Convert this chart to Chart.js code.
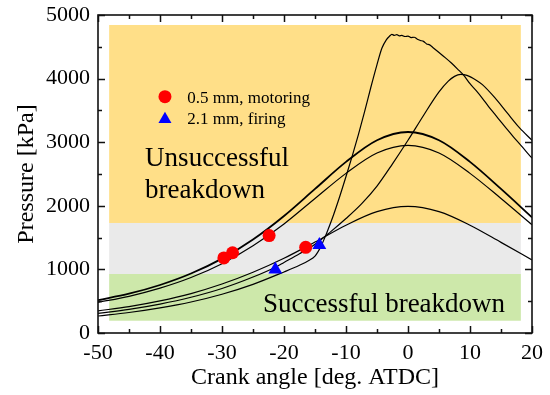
<!DOCTYPE html>
<html><head><meta charset="utf-8">
<script src="https://cdn.jsdelivr.net/npm/chart.js@4.4.1/dist/chart.umd.min.js"></script>
<style>html,body{margin:0;padding:0;background:#fff}#wrap{width:550px;height:395px}</style>
</head><body><div id="wrap"><canvas id="c" width="550" height="395"></canvas></div>
<script>
// ---- data ----
const angles5 = [-50,-45,-40,-35,-30,-25,-20,-15,-10,-5,0,5,10,15,20];
const motoring1 = [517,618,755,935,1170,1470,1840,2265,2690,3030,3160,3030,2690,2265,1818];
const motoring2 = [482,577,705,872,1090,1372,1715,2115,2510,2830,2950,2830,2510,2115,1702];
const motoring3 = [348,415,505,620,770,955,1175,1430,1695,1908,1990,1908,1695,1425,1150];

const firing1X = [-50,-45,-40,-35,-30,-25,-20,-17.5,-16,-15,-14.5,-14,-13.5,-13,-12,-11,-10,-9,-8,-7,-6,-5,-4.2,-3.5,-3,-2.6,-2.2,-1.8,-1.4,-1,-0.5,0,0.5,1,1.5,2,2.5,3,3.5,4,5,6,7,8,9,10,11,12,13,14,15,16,17,18,19,20];
const firing1Y = [267,322,395,488,610,765,960,1065,1140,1210,1280,1370,1480,1600,1860,2150,2460,2780,3120,3480,3860,4220,4480,4610,4665,4695,4680,4690,4672,4680,4662,4668,4645,4650,4620,4600,4585,4545,4530,4490,4410,4330,4245,4150,4050,3920,3810,3690,3560,3440,3320,3200,3085,2975,2860,2750];

const firing2X = [-50,-45,-40,-35,-30,-25,-21.4,-20,-17.5,-15,-12.5,-10,-7.5,-5,-2.5,0,2.5,5,6.5,7.5,8.5,9.5,11,12,14,16,18,20];
const firing2Y = [308,372,455,562,700,880,1035,1110,1245,1395,1590,1800,2030,2310,2660,3030,3420,3790,3960,4035,4065,4050,3975,3905,3700,3460,3225,3030];

const motoringPtsX = [-29.7,-28.3,-22.4,-16.5];
const motoringPtsY = [1180,1262,1532,1347];
const firingPtsX = [-21.4,-14.3];
const firingPtsY = [1000,1385];

const bandAngles = [-48.2, 18.2];
const bandLow = [193, 928, 1730];
const bandHigh = [928, 1730, 4843];

const xTicks = {min:-50, max:20, step:10};
const yTicks = {min:0, max:5000, step:1000};

// ---- build ----
const zip = (xs, ys) => xs.map((v,i) => ({x:v, y:ys[i]}));
const FONT = "'Liberation Serif','Times New Roman',serif";

const lineDs = (label, pts, w) => ({
  label, data: pts, showLine: true, pointRadius: 0, borderColor: '#000',
  borderWidth: w, cubicInterpolationMode: 'monotone', fill: false, order: 2
});

const bandPlugin = {
  id: 'bands',
  beforeDatasetsDraw(chart, args, opts) {
    const {ctx, scales:{x, y}} = chart;
    ctx.save();
    const x0 = x.getPixelForValue(bandAngles[0]), x1 = x.getPixelForValue(bandAngles[1]);
    bandLow.forEach((lo, i) => {
      const y0 = y.getPixelForValue(bandHigh[i]), y1 = y.getPixelForValue(lo);
      ctx.fillStyle = opts.colors[i];
      ctx.fillRect(x0, y0, x1 - x0, y1 - y0);
    });
    ctx.restore();
  }
};

const textPlugin = {
  id: 'texts',
  afterDatasetsDraw(chart, args, opts) {
    const {ctx, scales:{x, y}} = chart;
    ctx.save();
    ctx.fillStyle = '#000';
    ctx.textBaseline = 'alphabetic';
    ctx.textAlign = 'left';
    opts.items.forEach(it => {
      ctx.font = it.size + 'px ' + FONT;
      ctx.fillText(it.text, x.getPixelForValue(it.x), y.getPixelForValue(it.y));
    });
    opts.legend.forEach(it => {
      const px = x.getPixelForValue(it.mx), py = y.getPixelForValue(it.my);
      ctx.fillStyle = it.color;
      ctx.beginPath();
      if (it.shape === 'circle') {
        ctx.arc(px, py, it.r, 0, Math.PI*2);
      } else {
        const r = it.r;
        ctx.moveTo(px, py - r);
        ctx.lineTo(px + r*Math.sin(2*Math.PI/3), py - r*Math.cos(2*Math.PI/3));
        ctx.lineTo(px + r*Math.sin(4*Math.PI/3), py - r*Math.cos(4*Math.PI/3));
        ctx.closePath();
      }
      ctx.fill();
      ctx.fillStyle = '#000';
      ctx.font = it.size + 'px ' + FONT;
      ctx.fillText(it.text, x.getPixelForValue(it.tx), y.getPixelForValue(it.ty));
    });
    ctx.restore();
  }
};

const framePlugin = {
  id: 'frame',
  afterDraw(chart) {
    const {ctx, chartArea:a, scales:{x, y}} = chart;
    ctx.save();
    ctx.strokeStyle = '#111';
    ctx.lineWidth = 1.5;
    ctx.beginPath();
    const xs = x.ticks.map(t => t.value);
    xs.forEach((v, i) => {
      const vals = [v];
      if (i < xs.length - 1) vals.push((v + xs[i+1]) / 2);
      vals.forEach((vv, k) => {
        const p = Math.round(x.getPixelForValue(vv)) + 0.5;
        const L = k === 0 ? 7 : 4;
        ctx.moveTo(p, a.bottom); ctx.lineTo(p, a.bottom - L);
        ctx.moveTo(p, a.top); ctx.lineTo(p, a.top + L);
      });
    });
    const ys = y.ticks.map(t => t.value);
    ys.forEach((v, i) => {
      const vals = [v];
      if (i < ys.length - 1) vals.push((v + ys[i+1]) / 2);
      vals.forEach((vv, k) => {
        const p = Math.round(y.getPixelForValue(vv)) + 0.5;
        const L = k === 0 ? 7 : 4;
        ctx.moveTo(a.left, p); ctx.lineTo(a.left + L, p);
        ctx.moveTo(a.right, p); ctx.lineTo(a.right - L, p);
      });
    });
    ctx.stroke();
    ctx.lineWidth = 1.6;
    ctx.strokeRect(a.left, a.top, a.right - a.left, a.bottom - a.top);
    ctx.restore();
  }
};

new Chart(document.getElementById('c'), {
  type: 'scatter',
  data: {
    datasets: [
      {label:'0.5 mm, motoring', data: zip(motoringPtsX, motoringPtsY), pointStyle:'circle', pointRadius:6.5,
       backgroundColor:'#ff0000', borderColor:'#ff0000', borderWidth:0, order:0},
      {label:'2.1 mm, firing', data: zip(firingPtsX, firingPtsY), pointStyle:'triangle', pointRadius:8,
       backgroundColor:'#0000ff', borderColor:'#0000ff', borderWidth:0, order:0},
      lineDs('motoring 1', zip(angles5, motoring1), 1.8),
      lineDs('motoring 2', zip(angles5, motoring2), 1.2),
      lineDs('motoring 3', zip(angles5, motoring3), 1.2),
      lineDs('firing 1', zip(firing1X, firing1Y), 1.2),
      lineDs('firing 2', zip(firing2X, firing2Y), 1.2)
    ]
  },
  options: {
    responsive: false,
    animation: false,
    devicePixelRatio: 1,
    layout: {padding: {left: 0, right: 18, top: 15, bottom: 0}},
    plugins: {
      legend: {display: false},
      tooltip: {enabled: false},
      bands: {colors: ['#CDE8AA', '#EAEAEA', '#FFDF88']},
      texts: {
        items: [
          {text:'Unsuccessful', x:-42.4, y:2630, size:27},
          {text:'breakdown', x:-42.4, y:2125, size:27},
          {text:'Successful breakdown', x:-23.4, y:335, size:27}
        ],
        legend: [
          {shape:'circle', color:'#ff0000', r:6.5, mx:-39.2, my:3716, text:'0.5 mm, motoring', tx:-35.6, ty:3621, size:17},
          {shape:'triangle', color:'#0000ff', r:7.5, mx:-39.2, my:3360, text:'2.1 mm, firing', tx:-35.6, ty:3286, size:17}
        ]
      }
    },
    scales: {
      x: {
        type: 'linear', min: xTicks.min, max: xTicks.max,
        ticks: {stepSize: xTicks.step, padding: 7, color:'#000', font:{family:FONT, size:22}, callback: v => String(v)},
        grid: {display:false, drawTicks:false}, border:{display:false},
        title: {display:true, text:'Crank angle [deg. ATDC]', color:'#000', font:{family:FONT, size:24}, padding:{top:0, bottom:3}},
        afterFit: s => { s.height = 62; s.paddingLeft = 0; s.paddingRight = 0; }
      },
      y: {
        type: 'linear', min: yTicks.min, max: yTicks.max,
        ticks: {stepSize: yTicks.step, padding: 8, color:'#000', font:{family:FONT, size:22}, callback: v => String(v)},
        grid: {display:false, drawTicks:false}, border:{display:false},
        title: {display:true, text:'Pressure [kPa]', color:'#000', font:{family:FONT, size:24}, padding:{top:12, bottom:0}},
        afterFit: s => { s.width = 98; s.paddingTop = 0; s.paddingBottom = 0; }
      }
    }
  },
  plugins: [bandPlugin, textPlugin, framePlugin]
});
</script></body></html>
